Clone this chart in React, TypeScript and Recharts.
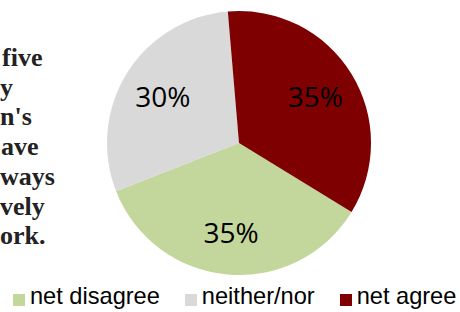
import React from 'react';
import { PieChart, Pie, Cell, Legend } from 'recharts';

const categories = ['net disagree', 'neither/nor', 'net agree'];
const shares = [35.3, 29.6, 35.1];
const colors = ['#c3d69b', '#d9d9d9', '#7f0000'];

// visible tail of the clipped side note
const noteLines = ['five', 'y', "n's", 'ave', 'ways', 'vely', 'ork.'];
const noteLeft = [2, 0, 0, 1, 0, 0, 0];

const data = categories.map((name, i) => ({ name, value: shares[i] }));

const RAD = Math.PI / 180;

const renderLabel = (props: any) => {
  const { cx, cy, midAngle, outerRadius, percent } = props;
  const r = outerRadius * 0.68;
  const x = cx + r * Math.cos(-midAngle * RAD);
  const y = cy + r * Math.sin(-midAngle * RAD);
  return (
    <text
      x={x}
      y={y}
      fill="#000"
      textAnchor="middle"
      dominantBaseline="central"
      style={{ fontFamily: '"Open Sans", sans-serif', fontSize: 28 }}
    >
      {`${Math.round(percent * 100)}%`}
    </text>
  );
};

const renderLegend = () => (
  <div style={{ display: 'flex', alignItems: 'flex-start', paddingLeft: 13 }}>
    {categories.map((c, i) => (
      <div key={c} style={{ display: 'flex', alignItems: 'flex-start', marginRight: 25 }}>
        <span
          style={{
            display: 'inline-block',
            width: 12,
            height: 12,
            marginTop: 9,
            marginRight: 5,
            background: colors[i],
          }}
        />
        <span
          style={{
            fontFamily: '"Liberation Sans", Arial, sans-serif',
            fontSize: 23.6,
            lineHeight: '23px',
            color: '#000',
            whiteSpace: 'nowrap',
          }}
        >
          {c}
        </span>
      </div>
    ))}
  </div>
);

export default function App() {
  return (
    <div style={{ position: 'absolute', left: 0, top: 0, width: 460, height: 312, background: '#fff', overflow: 'hidden' }}>
      {noteLines.map((t, i) => (
        <div
          key={i}
          style={{
            position: 'absolute',
            left: noteLeft[i],
            top: 67 + i * 29.7 - 24,
            fontFamily: '"Liberation Serif", serif',
            fontWeight: 'bold',
            fontSize: 26,
            lineHeight: '30px',
            color: '#222',
            whiteSpace: 'nowrap',
          }}
        >
          {t}
        </div>
      ))}
      <PieChart width={460} height={312} margin={{ top: 0, right: 0, bottom: 0, left: 0 }}>
        <Pie
          data={data}
          dataKey="value"
          nameKey="name"
          cx={239}
          cy={143}
          outerRadius={132}
          startAngle={-31.5}
          endAngle={-391.5}
          stroke="none"
          label={renderLabel}
          labelLine={false}
          isAnimationActive={false}
        >
          {data.map((d, i) => (
            <Cell key={d.name} fill={colors[i]} />
          ))}
        </Pie>
        <Legend
          content={renderLegend}
          wrapperStyle={{ position: 'absolute', left: 0, top: 285, width: 460 }}
        />
      </PieChart>
    </div>
  );
}
